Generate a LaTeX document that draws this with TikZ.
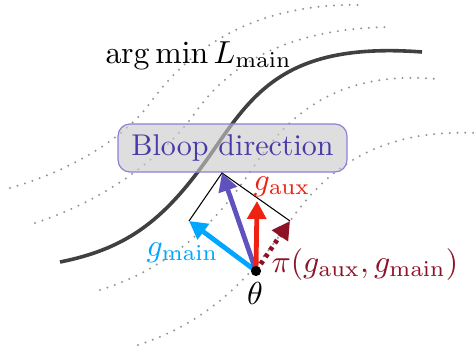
\documentclass[tikz,border=0pt]{standalone}
\usepackage{graphicx}
\usetikzlibrary{arrows.meta}
\definecolor{gmaincol}{RGB}{0,166,255}
\definecolor{bloopcol}{RGB}{96,82,190}
\definecolor{gauxcol}{RGB}{238,34,18}
\definecolor{picol}{RGB}{140,18,38}
\definecolor{blooptext}{RGB}{72,58,168}
\definecolor{boxfill}{RGB}{202,202,202}
\definecolor{boxdraw}{RGB}{140,130,215}
\definecolor{curvecol}{RGB}{64,64,64}
\definecolor{dotcol}{RGB}{150,150,150}
\newcommand{\mlab}[1]{\scalebox{1.06}{$#1$}}
\begin{document}
\begin{tikzpicture}[x=0.3333pt,y=-0.3333pt,
  maincurve/.style={draw=curvecol,line width=1.2pt},
  levelset/.style={draw=dotcol,line width=0.75pt,line cap=round,dash pattern=on 0pt off 2.6pt},
  vec/.style={line width=1.6pt,-{Triangle[length=6pt,width=6.2pt]}},
  para/.style={draw=black,line width=0.35pt},
  lbl/.style={inner sep=0pt},
  bloopbox/.style={draw=boxdraw,line width=0.4pt,fill=boxfill,fill opacity=0.62,text opacity=1,
    text=blooptext,rounded corners=4pt,minimum width=76.3pt,minimum height=16pt,inner sep=0pt}]
\useasboundingbox (0,0) rectangle (474,356);
% level sets
\draw[levelset] (10,188) .. controls (80,168) and (128,133) .. (150,103)
                        .. controls (180,62) and (240,2) .. (363,5);
\draw[levelset] (35,223) .. controls (115,197) and (170,148) .. (195,113)
                        .. controls (220,78) and (270,28) .. (392,27);
\draw[levelset] (100,290) .. controls (170,268) and (215,224) .. (250,172)
                         .. controls (275,135) and (320,68) .. (437,79);
\draw[levelset] (138,345) .. controls (215,320) and (255,270) .. (285,228)
                         .. controls (310,193) and (355,128) .. (474,133);
% main curve
\draw[maincurve] (60,262) .. controls (130,248) and (167,218) .. (215,148)
                          .. controls (255,90) and (290,42) .. (422,52);
% box
\node[bloopbox] (bloop) at (232.5,148) {Bloop direction};
% labels
\node[lbl,anchor=base] (argmin) at (198.5,63) {\mlab{\arg\min L_{\mathrm{main}}}};
% vectors
\coordinate (O) at (256,271);
\coordinate (M) at (189,221);
\coordinate (B) at (222,173);
\coordinate (P) at (290,221);
\coordinate (A) at (257,201);
\draw[para] (M) -- (B) -- (P);
\draw[vec,gmaincol] (O) -- (M);
\draw[vec,bloopcol] (O) -- (B);
\draw[vec,gauxcol] (O) -- (A);
\draw[vec,picol,dash pattern=on 1.3pt off 1.5pt] (O) -- (P);
\node[circle,fill=black,inner sep=0pt,minimum size=3.4pt] (Odot) at (O) {};
\node[lbl,anchor=base] (thetalbl) at (255,304) {\mlab{\theta}};
\node[lbl,anchor=base west,text=gauxcol] (gauxlbl) at (253,190) {\mlab{g_{\mathrm{aux}}}};
\node[lbl,anchor=base west,text=gmaincol] (gmainlbl) at (146,256) {\mlab{g_{\mathrm{main}}}};
\node[lbl,anchor=base west,text=picol] (pilbl) at (271,272) {\mlab{\pi(g_{\mathrm{aux}},g_{\mathrm{main}})}};
\end{tikzpicture}
\end{document}
